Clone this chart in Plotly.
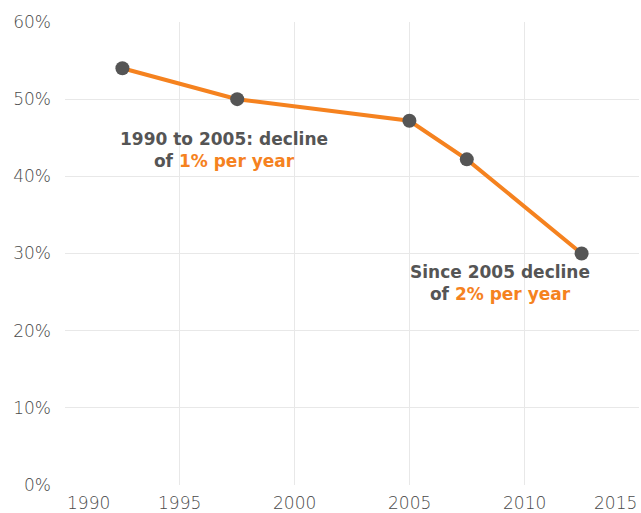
import plotly.graph_objects as go

ORANGE = "#F5821F"
GREY = "#555555"
TICK_FONT = dict(family="DejaVu Sans", size=17, color="#4a4a4a", weight=200)
NOTE_FONT = dict(family="DejaVu Sans", size=17, color=GREY)

years = [1992.5, 1997.5, 2005, 2007.5, 2012.5]
share = [54.0, 50.0, 47.2, 42.2, 30.0]

x_ticks = [1990, 1995, 2000, 2005, 2010, 2015]
y_ticks = [0, 10, 20, 30, 40, 50, 60]
y_labels = ["0%", "10%", "20%", "30%", "40%", "50%", "60%"]

fig = go.Figure()
fig.add_trace(go.Scatter(
    x=years, y=share, mode="lines+markers",
    line=dict(color=ORANGE, width=4),
    marker=dict(color=GREY, size=14),
    hoverinfo="skip", showlegend=False,
))

# x tick labels as annotations so the end labels stay inside the page
for i, yr in enumerate(x_ticks):
    anchor = "left" if i == 0 else ("right" if i == len(x_ticks) - 1 else "center")
    fig.add_annotation(x=yr, xref="x", y=0, yref="paper", yanchor="top",
                       xanchor=anchor, yshift=-6, text=str(yr), showarrow=False,
                       font=TICK_FONT)

fig.add_annotation(
    x=1996.93, y=43.4, showarrow=False, align="center",
    text=("<b>1990 to 2005: decline<br>of <span style='color:%s'>1%% per year</span></b>" % ORANGE),
    font=NOTE_FONT,
)
fig.add_annotation(
    x=2008.96, y=26.2, showarrow=False, align="center",
    text=("<b>Since 2005 decline<br>of <span style='color:%s'>2%% per year</span></b>" % ORANGE),
    font=NOTE_FONT,
)

fig.update_xaxes(range=[1990, 2015], tickvals=x_ticks, showticklabels=False,
                 showgrid=True, gridcolor="#e8e8e8", gridwidth=1,
                 zeroline=False, showline=False, fixedrange=True)
fig.update_yaxes(range=[0, 60], tickvals=y_ticks, ticktext=y_labels,
                 showgrid=True, gridcolor="#e8e8e8", gridwidth=1,
                 zeroline=False, showline=False, ticklabelstandoff=13,
                 tickfont=TICK_FONT, fixedrange=True)

fig.update_layout(
    width=641, height=513,
    margin=dict(l=65, r=2, t=22, b=28),
    plot_bgcolor="white", paper_bgcolor="white",
    font=dict(family="DejaVu Sans"),
)

fig.write_html("out.html", config={"displayModeBar": False},
               post_script="document.body.style.margin='0';")
